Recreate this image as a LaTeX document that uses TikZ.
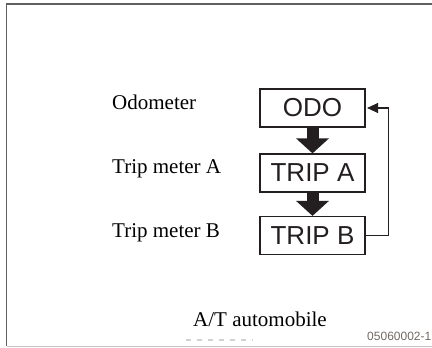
\documentclass[tikz,border=0pt]{standalone}
\usepackage{fontspec}
\setmainfont{Liberation Serif}
\newfontfamily\arialf{Liberation Sans}
\usetikzlibrary{arrows.meta}
\definecolor{ink}{RGB}{35,31,32}
\definecolor{codecol}{RGB}{115,105,100}
\tikzset{
  modebox/.style={draw=ink, line width=1.2pt, minimum width=105pt, minimum height=38pt, inner sep=0pt, text=ink, font=\arialf\fontsize{26}{26}\selectfont},
  lbl/.style={anchor=base west, inner sep=0pt, text=black, font=\fontsize{21}{21}\selectfont},
  bigarrow/.style={draw=ink, line width=12pt, -{Triangle[width=32pt,length=15pt]}},
  loopline/.style={draw=ink, line width=1.2pt, -{Triangle[width=10pt,length=11pt]}}
}
\begin{document}
\begin{tikzpicture}[x=1pt,y=-1pt]
\useasboundingbox (0,0) rectangle (432,348);
\fill[white] (0,0) rectangle (432,348);
% frame
\draw[gray!75!black, line width=1.8pt] (432,4) -- (6.5,4) -- (6.5,346);
\draw[gray!45, line width=1pt] (6.5,346) -- (432,346);
% boxes
\node[modebox] (odo) at (312.5,108) {ODO};
\node[modebox] (tripa) at (312.5,173) {TRIP A};
\node[modebox] (tripb) at (312.5,235.5) {TRIP B};
% arrows
\draw[bigarrow] (odo.south) -- (tripa.north);
\draw[bigarrow] (tripa.south) -- (tripb.north);
\draw[loopline] (tripb.east) -- ++(23,0) |- ([xshift=1.5pt]odo.east);
% labels
\node[lbl] (l1) at (112,109) {Odometer};
\node[lbl] (l2) at (112,173.5) {Trip meter A};
\node[lbl] (l3) at (112,237) {Trip meter B};
\node[lbl] (l4) at (193,326) {A/T automobile};
\node[anchor=base east, inner sep=0pt, text=codecol, font=\arialf\fontsize{12}{12}\selectfont] (code) at (431.5,340) {05060002-1};
\draw[gray!35, line width=1.2pt, dash pattern=on 5pt off 6pt] (186,340) -- (253,340);
\end{tikzpicture}
\end{document}
